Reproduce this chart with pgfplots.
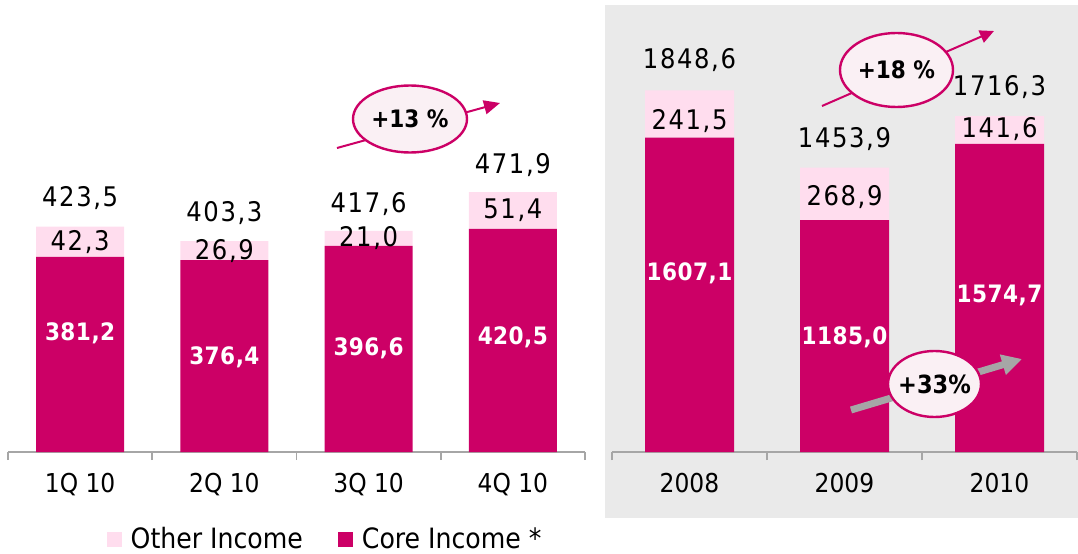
\documentclass[border=0pt]{standalone}
\usepackage{pgfplots}
\pgfplotsset{compat=1.18}
\usepackage{fontspec}
\setmainfont{DejaVu Sans Condensed}
\newfontfamily\numfont[LetterSpace=6]{DejaVu Sans Condensed}
\newfontfamily\boldnum[LetterSpace=2]{DejaVu Sans Condensed}
\usetikzlibrary{arrows.meta}
\definecolor{core}{HTML}{CC0066}
\definecolor{other}{HTML}{FFDDEE}
\definecolor{panel}{HTML}{EAEAEA}
\definecolor{axgrey}{HTML}{A6A6A6}
\definecolor{ellfill}{HTML}{FAF0F4}
\newcommand\lab{\numfont\fontsize{13.5}{16}\selectfont}
\newcommand\clab{\boldnum\fontsize{12}{14}\selectfont\bfseries}
\newcommand\ann{\fontsize{12}{14}\selectfont\bfseries}
\pgfplotsset{
  panelstyle/.style={
    scale only axis, height=226pt,
    ybar stacked,
    axis x line*=bottom, axis y line=none,
    x axis line style={draw=axgrey, line width=0.8pt},
    major tick length=0pt,
    extra x tick labels={},
    extra x tick style={tick align=outside, major tick length=4pt, tick style={draw=axgrey, line width=0.8pt}},
    xticklabel style={anchor=base, yshift=-20.25pt, font=\fontsize{13}{15}\selectfont},
  }
}
\begin{document}
\begin{tikzpicture}
\path[use as bounding box] (0pt,0pt) rectangle (539pt,276.5pt);
\fill[panel] (302.5pt,17.5pt) rectangle (539pt,274pt);

% Quarterly panel
\begin{axis}[panelstyle,
  at={(4pt,50.5pt)}, anchor=south west,
  width=288.5pt,
  xmin=-0.5, xmax=3.5, ymin=107, ymax=741.8,
  bar width=44pt,
  xtick={0,1,2,3}, xticklabels={1Q 10,2Q 10,3Q 10,4Q 10},
  extra x ticks={-0.5,0.5,1.5,2.5,3.5},
  legend style={at={(0.160,-0.193)}, anchor=west, draw=none, fill=none,
    legend columns=2, font=\fontsize{14}{16}\selectfont,
    inner ysep=0pt,
    /tikz/every even column/.append style={column sep=13pt},
    nodes={inner xsep=4.5pt, inner ysep=0pt}},
  legend image code/.code={\fill[#1] (0pt,-3.75pt) rectangle (7.5pt,3.75pt);},
  reverse legend,
]
\addplot[fill=core, draw=none] coordinates {(0,381.2) (1,376.4) (2,396.6) (3,420.5)};
\addplot[fill=other, draw=none] coordinates {(0,42.3) (1,26.9) (2,21.0) (3,51.4)};
\legend{Core Income *, Other Income}
\coordinate (t0) at (axis cs:0,463.7);
\coordinate (t1) at (axis cs:1,442.7);
\coordinate (t2) at (axis cs:2,455);
\coordinate (t3) at (axis cs:3,510);
\coordinate (o0) at (axis cs:0,402.35);
\coordinate (o1) at (axis cs:1,389.85);
\coordinate (o2) at (axis cs:2,407.1);
\coordinate (o3) at (axis cs:3,446.2);
\coordinate (c0) at (axis cs:0,274);
\coordinate (c1) at (axis cs:1,240);
\coordinate (c2) at (axis cs:2,253);
\coordinate (c3) at (axis cs:3,268.5);
\end{axis}
\node[font=\lab] at (t0) {423,5};
\node[font=\lab] at (t1) {403,3};
\node[font=\lab] at (t2) {417,6};
\node[font=\lab] at (t3) {471,9};
\node[font=\lab] at (o0) {42,3};
\node[font=\lab] at (o1) {26,9};
\node[font=\lab] at (o2) {21,0};
\node[font=\lab] at (o3) {51,4};
\node[font=\clab, text=white] at (c0) {381,2};
\node[font=\clab, text=white] at (c1) {376,4};
\node[font=\clab, text=white] at (c2) {396,6};
\node[font=\clab, text=white] at (c3) {420,5};

% Annual panel
\begin{axis}[panelstyle,
  at={(306pt,50.5pt)}, anchor=south west,
  width=232.5pt,
  xmin=-0.5, xmax=2.5, ymin=0, ymax=2310,
  bar width=44.5pt,
  xtick={0,1,2}, xticklabels={2008,2009,2010},
  extra x ticks={-0.5,0.5,1.5,2.5},
]
\addplot[fill=core, draw=none] coordinates {(0,1607.1) (1,1185.0) (2,1574.7)};
\addplot[fill=other, draw=none] coordinates {(0,241.5) (1,268.9) (2,141.6)};
\coordinate (T0) at (axis cs:0,2003);
\coordinate (T1) at (axis cs:1,1599);
\coordinate (T2) at (axis cs:2,1865);
\coordinate (O0) at (axis cs:0,1691);
\coordinate (O1) at (axis cs:1,1303);
\coordinate (O2) at (axis cs:2,1650);
\coordinate (C0) at (axis cs:0,915);
\coordinate (C1) at (axis cs:1,588);
\coordinate (C2) at (axis cs:2,802);
\end{axis}
\node[font=\lab] at (T0) {1848,6};
\node[font=\lab] at (T1) {1453,9};
\node[font=\lab] at (T2) {1716,3};
\node[font=\lab] at (O0) {241,5};
\node[font=\lab] at (O1) {268,9};
\node[font=\lab] at (O2) {141,6};
\node[font=\clab, text=white] at (C0) {1607,1};
\node[font=\clab, text=white] at (C1) {1185,0};
\node[font=\clab, text=white] at (C2) {1574,7};

% growth annotations
\draw[core, line width=1pt, -{Triangle[length=8pt,width=7pt]}] (168.5pt,202.5pt) -- (250pt,225pt);
\draw[core, line width=1.2pt, fill=ellfill] (205pt,217pt) ellipse [x radius=28.5pt, y radius=16.75pt];
\node[font=\ann] at (205pt,217pt) {+13 \%};

\draw[core, line width=1pt, -{Triangle[length=7pt,width=6.5pt]}] (411pt,223.5pt) -- (497pt,261pt);
\draw[core, line width=1.2pt, fill=ellfill] (448.25pt,241.5pt) ellipse [x radius=28.25pt, y radius=18.5pt];
\node[font=\ann] at (448.25pt,241.5pt) {+18 \%};

\draw[axgrey, line width=3.5pt, -{Triangle[length=10pt,width=10pt]}] (425.5pt,71.5pt) -- (511pt,97pt);
\draw[core, line width=1.2pt, fill=ellfill] (467.25pt,84.5pt) ellipse [x radius=23.25pt, y radius=16.5pt];
\node[font=\fontsize{12.5}{14}\selectfont\bfseries] at (467.25pt,84.5pt) {+33\%};
\end{tikzpicture}
\end{document}
